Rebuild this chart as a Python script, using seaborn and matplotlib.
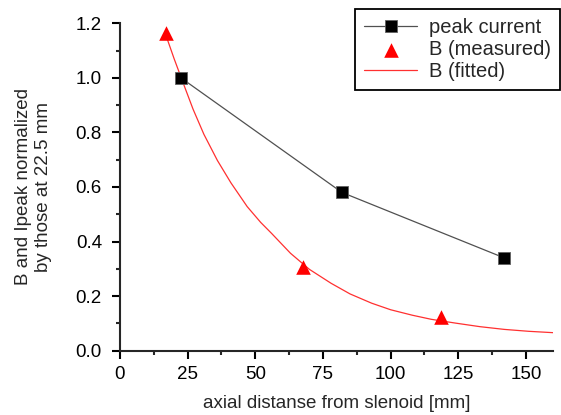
import matplotlib
matplotlib.use("Agg")
import matplotlib.pyplot as plt
from matplotlib.ticker import MultipleLocator
import seaborn as sns
import pandas as pd

# data
peak_x = [22.5, 82.0, 142.0]
peak_y = [1.0, 0.58, 0.34]

meas_x = [17.0, 67.5, 118.5]
meas_y = [1.165, 0.305, 0.125]

fit_x = [17, 20, 23, 27, 31, 36, 41, 47, 52, 56, 63, 70, 78, 85, 93,
         100, 108, 115, 124, 133, 142, 151, 160]
fit_y = [1.155, 1.07, 0.99, 0.885, 0.793, 0.697, 0.615, 0.528, 0.47, 0.43,
         0.357, 0.298, 0.247, 0.208, 0.174, 0.150, 0.130, 0.115, 0.101,
         0.088, 0.078, 0.071, 0.066]

peak = pd.DataFrame({"x": peak_x, "y": peak_y})
meas = pd.DataFrame({"x": meas_x, "y": meas_y})
fit = pd.DataFrame({"x": fit_x, "y": fit_y})

sns.set_style("ticks")
plt.rcParams["font.family"] = ["Liberation Sans", "DejaVu Sans"]

fig = plt.figure(figsize=(5.61, 4.15), dpi=100)
ax = fig.add_axes([0.2139, 0.155, 0.7718, 0.789])

sns.lineplot(data=fit, x="x", y="y", ax=ax, color="#ff3030", lw=0.9,
             label="B (fitted)", zorder=2)
sns.lineplot(data=peak, x="x", y="y", ax=ax, color="#505050", lw=0.9,
             marker="s", markersize=8, markerfacecolor="black",
             markeredgecolor="#606060", markeredgewidth=0.6,
             label="peak current", zorder=3)
sns.scatterplot(data=meas, x="x", y="y", ax=ax, marker="^", s=110,
                color="red", edgecolor="red", linewidth=0,
                label="B (measured)", zorder=4)

ax.set_xlim(0, 160)
ax.set_ylim(0, 1.2)
ax.xaxis.set_major_locator(MultipleLocator(25))
ax.xaxis.set_minor_locator(MultipleLocator(12.5))
ax.yaxis.set_major_locator(MultipleLocator(0.2))
ax.yaxis.set_minor_locator(MultipleLocator(0.1))
ax.yaxis.set_major_formatter(plt.FuncFormatter(lambda v, p: f"{v:.1f}"))

sns.despine(ax=ax)
for s in ["left", "bottom"]:
    ax.spines[s].set_linewidth(1.5)
ax.tick_params(which="major", length=6, width=1.5, labelsize=13.5,
               direction="out", colors="black")
ax.tick_params(which="minor", length=3, width=1.5, direction="out")
ax.tick_params(axis="y", which="major", pad=7)
ax.tick_params(axis="x", which="major", pad=5)

ax.set_xlabel("axial distanse from slenoid [mm]", fontsize=13.5, labelpad=9)
ax.set_ylabel("B and Ipeak normalized\nby those at 22.5 mm", fontsize=13.5,
              labelpad=17)

handles, labels = ax.get_legend_handles_labels()
order = [labels.index(l) for l in ["peak current", "B (measured)", "B (fitted)"]]
ax.legend([handles[i] for i in order], [labels[i] for i in order],
          loc="upper right", bbox_to_anchor=(560 / 561, 1 - 9 / 415),
          bbox_transform=fig.transFigure, borderaxespad=0,
          fontsize=14.5, frameon=True,
          fancybox=False, edgecolor="black", framealpha=1,
          handlelength=2.6, labelspacing=0.15, borderpad=0.45,
          handletextpad=0.6)
ax.get_legend().get_frame().set_linewidth(1.3)

fig.savefig("out.png", dpi=100)
